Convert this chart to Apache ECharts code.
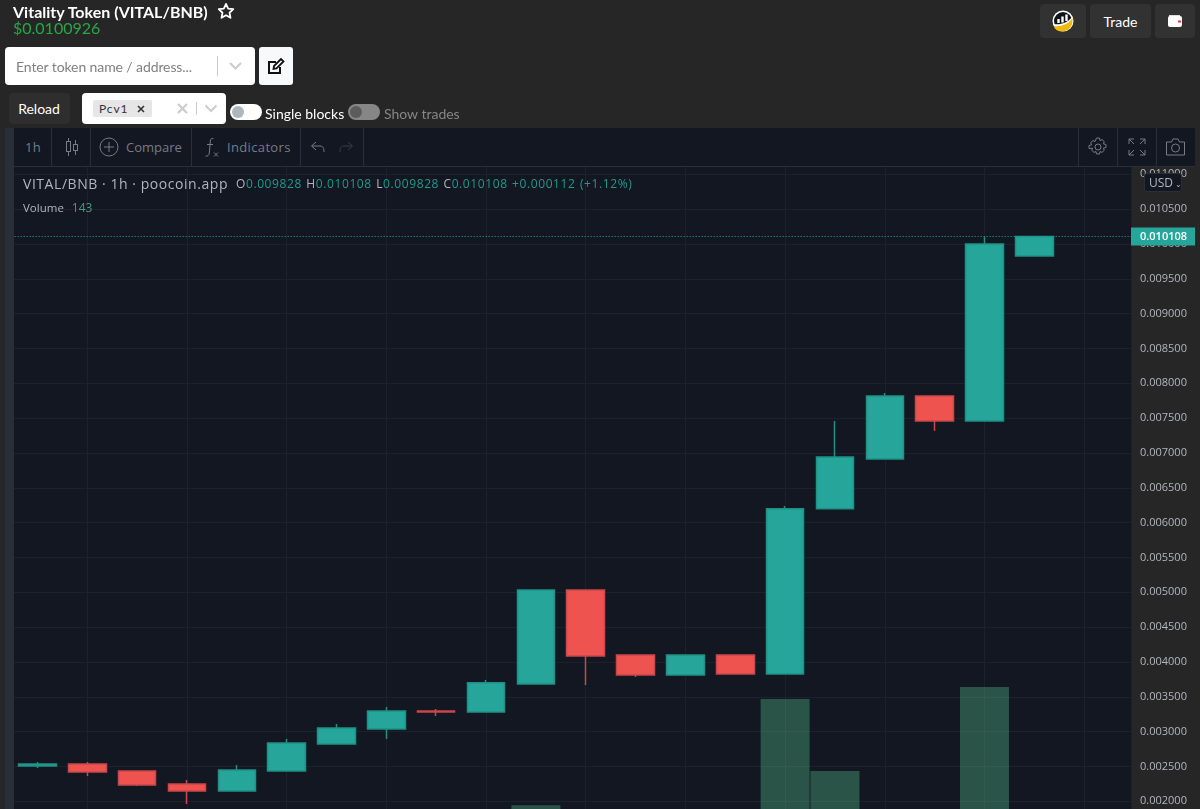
<!DOCTYPE html>
<html>
<head>
<meta charset="utf-8">
<title>Vitality Token (VITAL/BNB)</title>
<script src="https://cdn.jsdelivr.net/npm/echarts@6/dist/echarts.min.js"></script>
<style>
  html, body { margin: 0; padding: 0; width: 1200px; height: 809px; overflow: hidden; background: #262626; font-family: Lato, "Open Sans", sans-serif; }
  #chart { position: absolute; left: 0; top: 0; width: 1200px; height: 809px; z-index: 1; }
  .ui { position: absolute; z-index: 2; box-sizing: border-box; white-space: nowrap; }
  .tv { font-family: "Open Sans", sans-serif; }
  .btn { background: #323232; border-radius: 4px; display: flex; align-items: center; justify-content: center; }
  .sep { position: absolute; top: 0; width: 1px; height: 38px; background: #2a2e39; }
  .tool { position: absolute; top: 0; height: 38px; line-height: 38px; color: #787b86; font-size: 13px; letter-spacing: .35px; }
  svg { display: block; }
</style>
</head>
<body>
<div id="chart"></div>

<!-- page header -->
<div class="ui" style="left:13px;top:2px;color:#fff;font-size:16px;font-weight:700;line-height:20px;">Vitality Token (VITAL/BNB)</div>
<svg class="ui" style="left:217px;top:2px" width="18" height="18" viewBox="0 0 24 24" fill="none" stroke="#fff" stroke-width="2.4" stroke-linejoin="round"><path d="M12 2.5l2.9 6.3 6.8.8-5 4.7 1.3 6.8-6-3.4-6 3.4 1.3-6.8-5-4.7 6.8-.8z"/></svg>
<div class="ui" style="left:13px;top:18px;color:#28a745;font-size:16px;line-height:20px;">$0.0100926</div>

<div class="ui btn" style="left:1040px;top:4px;width:46px;height:34px;">
  <svg width="22" height="22" viewBox="0 0 22 22"><circle cx="11" cy="11" r="10.500" fill="#fff"/><circle cx="11" cy="11" r="9" fill="#10131c"/><path d="M1.500 15c7 1 14-1 19-7 .5 5-1 9-4 11.500-3 2-9 2.500-12 .5-1.500-1-2.500-3-3-5z" fill="#f0b90b"/><path d="M1.500 14c7 1 14-1 18.500-7v2c-4 5-11 8-18 7z" fill="#fff"/><path d="M6.500 13V9M10.500 12.500V6.500M14.500 11V4.500" stroke="#fff" stroke-width="2.400"/></svg>
</div>
<div class="ui btn" style="left:1090px;top:4px;width:61px;height:34px;color:#fff;font-size:14px;">Trade</div>
<div class="ui btn" style="left:1155px;top:4px;width:40px;height:34px;">
  <svg width="16" height="14" viewBox="0 0 16 14"><path d="M2 1h11v2H2z" fill="#ddd"/><rect x="1" y="2" width="14" height="11" rx="2" fill="#fff"/><rect x="11" y="6.500" width="3" height="2" fill="#e33"/></svg>
</div>

<!-- token search -->
<div class="ui" style="left:5px;top:47px;width:250px;height:38px;background:#fff;border-radius:4px;"></div>
<div class="ui" style="left:16px;top:47px;height:38px;line-height:40px;font-size:14px;letter-spacing:-.1px;color:#808080;">Enter token name / address...</div>
<div class="ui" style="left:217px;top:56px;width:1px;height:20px;background:#ccc;"></div>
<svg class="ui" style="left:228px;top:61px" width="15" height="10" viewBox="0 0 15 10" fill="none" stroke="#ccc" stroke-width="2.2"><path d="M2 2l5.500 5.500L13 2"/></svg>
<div class="ui" style="left:259px;top:47px;width:34px;height:38px;background:#f8f9fa;border-radius:3px;"></div>
<svg class="ui" style="left:267px;top:58px" width="18" height="17" viewBox="0 0 18 17" fill="none" stroke="#111" stroke-width="2"><path d="M13 9v6H2V4h7"/><path d="M7 8l-.5 3 3-.5 7-7-2.500-2.500z" stroke-width="1.800"/></svg>

<!-- controls row -->
<div class="ui btn" style="left:9px;top:93px;width:61px;height:31px;background:#2e2e2e;color:#fff;font-size:14px;padding-right:1px;">Reload</div>
<div class="ui" style="left:82px;top:93px;width:144px;height:31px;background:#fff;border-radius:4px;"></div>
<div class="ui" style="left:93px;top:100px;width:59px;height:17px;background:#e6e6e6;border-radius:2px;"></div>
<div class="ui" style="left:99px;top:100px;height:17px;line-height:18px;font-size:12px;color:#333;letter-spacing:.9px;">Pcv1</div>
<svg class="ui" style="left:137px;top:105px" width="8" height="8" viewBox="0 0 8 8" stroke="#333" stroke-width="1.600"><path d="M1 1l6 6M7 1L1 7"/></svg>
<svg class="ui" style="left:177px;top:103px" width="11" height="11" viewBox="0 0 11 11" stroke="#ccc" stroke-width="2.200"><path d="M1 1l9 9M10 1L1 10"/></svg>
<div class="ui" style="left:196px;top:102px;width:1px;height:13px;background:#ccc;"></div>
<svg class="ui" style="left:204px;top:104px" width="14" height="9" viewBox="0 0 14 9" fill="none" stroke="#ccc" stroke-width="2"><path d="M1.500 1.500L7 7l5.500-5.500"/></svg>

<div class="ui" style="left:230px;top:104px;width:32px;height:16px;background:#fff;border-radius:8px;"></div>
<div class="ui" style="left:232px;top:106px;width:12px;height:12px;background:#adb5bd;border-radius:6px;"></div>
<div class="ui" style="left:265px;top:104px;line-height:20px;color:#fff;font-size:14px;">Single blocks</div>
<div class="ui" style="left:348px;top:104px;width:32px;height:16px;background:#868686;border-radius:8px;"></div>
<div class="ui" style="left:350px;top:106px;width:12px;height:12px;background:#5c5c5c;border-radius:6px;"></div>
<div class="ui" style="left:384px;top:104px;line-height:20px;color:#868686;font-size:14px;">Show trades</div>

<!-- chart frame around the plot -->
<div class="ui" style="left:0;top:128px;width:5px;height:681px;background:#262626;"></div>
<div class="ui" style="left:5px;top:128px;width:9px;height:681px;background:#2a2e39;"></div>
<div class="ui" style="left:1195px;top:128px;width:5px;height:681px;background:#262626;"></div>

<!-- chart toolbar -->
<div class="ui tv" style="left:14px;top:128px;width:1181px;height:39px;background:#131722;border-bottom:1px solid #2a2e39;">
  <div class="tool" style="left:11px;">1h</div>
  <div class="sep" style="left:37px"></div>
  <svg style="position:absolute;left:50px;top:9px" width="16" height="20" viewBox="0 0 16 20" fill="none" stroke="#787b86"><path d="M4.500 1v18M11.500 3v15"/><rect x="2.500" y="4.500" width="4" height="10" fill="#131722"/><rect x="9.500" y="7.500" width="4" height="6" fill="#131722"/></svg>
  <div class="sep" style="left:76px"></div>
  <svg style="position:absolute;left:85px;top:9px" width="20" height="20" viewBox="0 0 20 20" fill="none" stroke="#787b86"><circle cx="10" cy="10" r="9"/><path d="M10 5v10M5 10h10"/></svg>
  <div class="tool" style="left:112px;letter-spacing:0;">Compare</div>
  <div class="sep" style="left:177px"></div>
  <svg style="position:absolute;left:190px;top:9px" width="15" height="21" viewBox="0 0 15 21" fill="none" stroke="#787b86"><path d="M9.500 1.500C7.500 1 6.500 2 6.300 4L5.300 16C5 18.500 3.500 19.500 1.500 19M3 7.500h6M10 15.500l4 4M14 15.500l-4 4"/></svg>
  <div class="tool" style="left:213px;">Indicators</div>
  <div class="sep" style="left:286px"></div>
  <svg style="position:absolute;left:296px;top:13px" width="16" height="12" viewBox="0 0 16 12" fill="none" stroke="#787b86"><path d="M6 1L1.500 5 6 9M2 5h8c3 0 4 2 4 6"/></svg>
  <svg style="position:absolute;left:324px;top:13px" width="16" height="12" viewBox="0 0 16 12" fill="none" stroke="#3a3e49"><path d="M10 1l4.500 4L10 9M14 5H6c-3 0-4 2-4 6"/></svg>
  <div class="sep" style="left:349px"></div>
  <div class="sep" style="left:1064px"></div>
  <svg style="position:absolute;left:1074px;top:9px" width="20" height="20" viewBox="0 0 20 20" fill="none" stroke="#787b86"><circle cx="10" cy="10" r="3"/><path d="M8.500 1h3l.5 2.500 2-.9 2.300 2.100-1 2.100 2.700.7v3l-2.700.7 1 2.100-2.300 2.100-2-.9-.5 2.500h-3l-.5-2.500-2 .9-2.300-2.100 1-2.100L1 11.500v-3l2.700-.7-1-2.100L5 3.600l2 .9z"/></svg>
  <div class="sep" style="left:1103px"></div>
  <svg style="position:absolute;left:1114px;top:10px" width="18" height="18" viewBox="0 0 18 18" fill="none" stroke="#787b86"><path d="M1 6V1h5M1 1l5 5M17 6V1h-5M17 1l-5 5M1 12v5h5M1 17l5-5M17 12v5h-5M17 17l-5-5"/></svg>
  <div class="sep" style="left:1142px"></div>
  <svg style="position:absolute;left:1151px;top:10px" width="21" height="18" viewBox="0 0 21 18" fill="none" stroke="#787b86"><path d="M1.500 4h5L8 1h5l1.500 3h5v13h-18z"/><circle cx="10.500" cy="10" r="4"/></svg>
</div>

<!-- legend block -->
<div class="ui tv" style="left:23px;top:174px;line-height:20px;font-size:14px;color:#b2b5be;letter-spacing:.55px;">VITAL/BNB · 1h · poocoin.app</div>
<div class="ui tv" style="left:236px;top:174px;line-height:20px;font-size:12px;color:#22998c;letter-spacing:.6px;word-spacing:.7px;"><span style="color:#b2b5be">O</span>0.009828 <span style="color:#b2b5be">H</span>0.010108 <span style="color:#b2b5be">L</span>0.009828 <span style="color:#b2b5be">C</span>0.010108 +0.000112 (+1.12%)</div>
<div class="ui tv" style="left:23px;top:198px;line-height:20px;font-size:11.5px;color:#b2b5be;">Volume <span style="color:#3f9f7f;margin-left:5px;font-size:12px;">143</span></div>
<div class="ui tv" style="left:1144px;top:173px;width:38px;height:19px;background:#131722;border:1px solid #2a2e39;border-radius:3px;color:#b2b5be;font-size:12px;line-height:17px;padding-left:4px;">USD<span style="font-size:8px;margin-left:2px;">⌄</span></div>

<script>
// Hourly VITAL/BNB candles, oldest first
const hours = [1, 2, 3, 4, 5, 6, 7, 8, 9, 10, 11, 12, 13, 14, 15, 16, 17, 18, 19, 20, 21];
const opens = [0.002507, 0.002535, 0.002435, 0.002248, 0.002148, 0.002435, 0.002823, 0.003038, 0.003296, 0.003282, 0.003684,
               0.005034, 0.004100, 0.003813, 0.004100, 0.003827, 0.006200, 0.006914, 0.007818, 0.007460, 0.009828];
const closes = [0.002535, 0.002421, 0.002234, 0.002148, 0.002449, 0.002837, 0.003052, 0.003296, 0.003282, 0.003700, 0.005034,
                0.004086, 0.003813, 0.004100, 0.003827, 0.006200, 0.006942, 0.007818, 0.007460, 0.010000, 0.010108];
const lows = [0.002478, 0.002363, 0.002220, 0.001961, 0.002148, 0.002435, 0.002823, 0.002894, 0.003224, 0.003282, 0.003684,
              0.003669, 0.003784, 0.003813, 0.003827, 0.003827, 0.006200, 0.006914, 0.007317, 0.007460, 0.009828];
const highs = [0.002564, 0.002564, 0.002435, 0.002306, 0.002521, 0.002894, 0.003110, 0.003354, 0.003325, 0.003741, 0.005034,
               0.005034, 0.004100, 0.004100, 0.004100, 0.006239, 0.007460, 0.007861, 0.007818, 0.010108, 0.010108];
// Volume pane: only the taller bars reach into view, the rest are left out
const volumes = [null, null, null, null, null, null, null, null, null, null, 810,
                 null, null, null, null, 1870, 1150, null, null, 1990, 143];

const priceInterval = 0.0005;
const lastPrice = closes[closes.length - 1];
const UP = '#26a69a', DOWN = '#ef5350', GRID = '#1d212b', BG = '#131722';

const chart = echarts.init(document.getElementById('chart'), null, { renderer: 'canvas' });
chart.setOption({
  animation: false,
  backgroundColor: 'transparent',
  grid: {
    left: -12.35, top: 139.47, width: 1143.35, height: 696.66,
    outerBoundsMode: 'none', backgroundColor: BG, show: true, borderWidth: 0
  },
  xAxis: {
    type: 'value', min: 0, max: 22.94, interval: 2,
    axisLine: { show: false }, axisTick: { show: false }, axisLabel: { show: false },
    splitLine: { show: true, lineStyle: { color: GRID, width: 1 } }
  },
  yAxis: [
    {
      type: 'value', position: 'right', min: 0.0015, max: 0.0115, interval: priceInterval,
      axisLine: { show: true, lineStyle: { color: '#2a2e39' } },
      axisTick: { show: false },
      axisLabel: {
        color: '#b2b5be', fontFamily: '"Open Sans", sans-serif', fontSize: 11, margin: 9,
        formatter: v => v.toFixed(6)
      },
      splitLine: { show: true, lineStyle: { color: GRID, width: 1 } }
    },
    { type: 'value', min: 500, max: 7466, show: false, splitLine: { show: false } }
  ],
  series: [
    {
      name: 'Volume', type: 'bar', yAxisIndex: 1, barWidth: 49, z: 1,
      itemStyle: { color: 'rgba(83,185,135,0.38)' },
      data: hours.map((h, i) => [h, volumes[i]])
    },
    {
      name: 'VITAL/BNB', type: 'candlestick', yAxisIndex: 0, barWidth: 38, z: 3,
      itemStyle: { color: UP, color0: DOWN, borderColor: '#1f9084', borderColor0: '#c9474a', borderWidth: 1.5 },
      encode: { x: 0, y: [1, 2, 3, 4] },
      data: hours.map((h, i) => [h, opens[i], closes[i], lows[i], highs[i]]),
      markLine: {
        silent: true, symbol: 'none', precision: 6, z: 5,
        lineStyle: { color: UP, type: [1, 2], width: 1 },
        label: {
          position: 'end', distance: 0, color: '#fff', backgroundColor: UP,
          fontFamily: '"Open Sans", sans-serif', fontSize: 11, fontWeight: 600, padding: [4, 8, 3, 9],
          formatter: p => p.value.toFixed(6)
        },
        data: [{ yAxis: lastPrice }]
      }
    }
  ]
});
</script>
</body>
</html>
